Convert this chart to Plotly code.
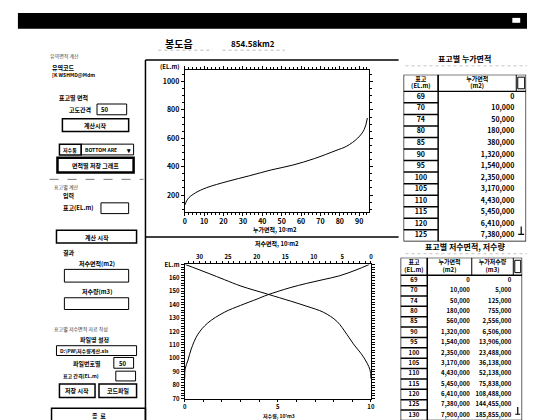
import plotly.graph_objects as go

W, H = 535, 420

# ---------------- data ----------------
top_area = [0, 1.0, 2.2, 5.6, 11.1, 22.3, 33.4, 44.6, 55.7, 66.9, 78.0, 83.5, 89.2, 92.6, 94.2]
top_el = [129, 159, 182, 216, 251, 297, 336, 377, 411, 457, 514, 544, 601, 663, 743]
top_yticks = [200, 400, 600, 800, 1000]

vol = [0, 0.02, 0.18, 0.35, 0.71, 1.24, 2.12, 3.0, 3.9, 4.42, 5.66, 6.55, 7.43, 8.32, 9.2, 9.91]
vol_el = [85, 92, 98.8, 107, 118, 126.4, 134.3, 139.5, 144.3, 147.2, 152.7, 155.9, 158.7, 161.6, 165.9, 170]
area2 = [32.5, 28.5, 25.65, 22.75, 18.1, 14.07, 11.2, 8.28, 5.96, 4.23, 3.07, 1.33, 0.17, 0]
area2_el = [170, 163.5, 158.7, 153.9, 147.9, 142.7, 138.8, 134.3, 127.6, 118, 110.8, 101.2, 91.6, 85]
bot_yticks = [70, 80, 90, 100, 110, 120, 130, 140, 150, 160, 170]
bot_ytext = ["70", "80", "90", "100", "110", "120", "130", "140", "150", "160", "EL.m"]

t1_head = ["표고<br>(EL.m)", "누가면적<br>(m2)"]
t1_el = ["69", "70", "74", "80", "85", "90", "95", "100", "105", "110", "115", "120", "125"]
t1_area = ["0", "10,000", "50,000", "180,000", "380,000", "1,320,000", "1,540,000", "2,350,000",
           "3,170,000", "4,430,000", "5,450,000", "6,410,000", "7,380,000"]

t2_head = ["표고<br>(EL.m)", "누가면적<br>(m2)", "누가저수량<br>(m3)"]
t2_el = ["69", "70", "74", "80", "85", "90", "95", "100", "105", "110", "115", "120", "125", "130"]
t2_area = ["0", "10,000", "50,000", "180,000", "560,000", "1,320,000", "1,540,000", "2,350,000",
           "3,170,000", "4,430,000", "5,450,000", "6,410,000", "7,380,000", "7,900,000"]
t2_vol = ["0", "5,000", "125,000", "755,000", "2,556,000", "6,506,000", "13,906,000", "23,488,000",
          "36,138,000", "52,138,000", "75,838,000", "108,488,000", "144,455,000", "185,855,000"]

FONT = "Noto Sans CJK KR"


def px(x):
    return x / W


def py(y):
    return 1 - y / H


fig = go.Figure()
shapes = []
annots = []

# top chart
fig.add_trace(go.Scatter(x=top_area, y=top_el, mode="lines", line=dict(color="black", width=1, shape="spline"),
                         xaxis="x", yaxis="y", showlegend=False))
# bottom chart
fig.add_trace(go.Scatter(x=vol, y=vol_el, mode="lines", line=dict(color="black", width=1, shape="spline"),
                         xaxis="x2", yaxis="y2", showlegend=False))
fig.add_trace(go.Scatter(x=area2, y=area2_el, mode="lines", line=dict(color="black", width=1, shape="spline"),
                         xaxis="x3", yaxis="y2", showlegend=False))

tickfont = dict(family=FONT, size=7, color="black", weight="bold")
axcommon = dict(showgrid=False, zeroline=False, showline=True, linecolor="black", linewidth=1,
                ticks="outside", tickcolor="black")

layout_axes = dict(
    xaxis=dict(domain=[px(176.7), px(363)], range=[0, 95], anchor="y", dtick=10, tick0=0, mirror="allticks",
               ticklen=3, tickfont=tickfont,
               minor=dict(dtick=2, ticklen=2, ticks="outside", tickcolor="black"), **axcommon),
    yaxis=dict(domain=[py(203), py(58)], range=[83, 1083], anchor="x", tickvals=top_yticks, mirror="allticks",
               ticklen=3, tickfont=tickfont,
               minor=dict(dtick=50, ticklen=2, ticks="outside", tickcolor="black"), **axcommon),
    xaxis2=dict(domain=[px(176.7), px(365)], range=[0, 10], anchor="y2", dtick=5, tick0=0,
                ticklen=2, tickfont=dict(tickfont, size=6),
                minor=dict(dtick=1, ticklen=2, ticks="outside", tickcolor="black"), **axcommon),
    xaxis3=dict(overlaying="x2", side="top", range=[32.6, 0], anchor="y2", dtick=5, tick0=0,
                ticklen=2, tickfont=dict(tickfont, size=6),
                minor=dict(dtick=1, ticklen=2, ticks="outside", tickcolor="black"), **axcommon),
    yaxis2=dict(domain=[py(394), py(257)], range=[70, 170], anchor="x2", tickvals=bot_yticks, ticktext=bot_ytext,
                mirror="allticks", ticklen=3, tickfont=dict(tickfont, size=6),
                minor=dict(dtick=2, ticklen=2, ticks="outside", tickcolor="black"), **axcommon),
)


def make_table(ax_id, x0, y0, col_w, scroll_w, head_px, row_px, head, cols, aligns, vsize):
    n = len(cols[0])
    tw = sum(col_w) + scroll_w
    hu = head_px / row_px
    y1 = y0 + head_px + n * row_px
    xa, ya = "x%d" % ax_id, "y%d" % ax_id
    layout_axes["xaxis%d" % ax_id] = dict(domain=[px(x0), px(x0 + tw)], range=[0, tw], visible=False,
                                          anchor=ya, fixedrange=True)
    layout_axes["yaxis%d" % ax_id] = dict(domain=[py(y1), py(y0)], range=[n, -hu], visible=False,
                                          anchor=xa, fixedrange=True)
    bounds = [0]
    for w in col_w:
        bounds.append(bounds[-1] + w)
    rows_y = [i + 0.5 for i in range(n)]
    for c, (vals, al) in enumerate(zip(cols, aligns)):
        if al == "center":
            xpos, tp = (bounds[c] + bounds[c + 1]) / 2, "middle center"
        else:
            xpos, tp = bounds[c + 1] - 2, "middle left"
        fig.add_trace(go.Scatter(x=[xpos] * n, y=rows_y, text=vals, mode="text", textposition=tp,
                                 textfont=dict(family=FONT, size=vsize, color="black", weight="bold"),
                                 xaxis=xa, yaxis=ya, showlegend=False, hoverinfo="skip"))
        fig.add_trace(go.Scatter(x=[(bounds[c] + bounds[c + 1]) / 2], y=[-hu / 2], text=[head[c]], mode="text",
                                 textposition="middle center",
                                 textfont=dict(family=FONT, size=6, color="black", weight="bold"),
                                 xaxis=xa, yaxis=ya, showlegend=False, hoverinfo="skip"))

    def sh(**kw):
        d = dict(xref=xa, yref=ya, line=dict(color="black", width=kw.pop("lw", 1)))
        d.update(kw)
        shapes.append(d)

    sh(type="rect", x0=0, x1=tw, y0=-hu, y1=n, lw=1.3)
    sh(type="line", x0=0, x1=tw, y0=0, y1=0, lw=1.3)
    for b in bounds[1:]:
        sh(type="line", x0=b, x1=b, y0=-hu, y1=0, lw=1)
    sh(type="line", x0=bounds[1], x1=bounds[1], y0=-hu, y1=n, lw=1.5)
    for i in range(1, n):
        sh(type="line", x0=0, x1=bounds[1], y0=i, y1=i, lw=1.5)
    sh(type="rect", x0=tw - scroll_w + 1.5, x1=tw - 1.5, y0=-hu * 0.85, y1=-hu * 0.15, lw=1)
    sh(type="line", x0=tw - scroll_w + 2, x1=tw - 2, y0=n - 0.6, y1=n - 0.6, lw=1.2)
    sh(type="line", x0=tw - scroll_w / 2, x1=tw - scroll_w / 2, y0=n - 1.3, y1=n - 0.6, lw=1.2)


make_table(4, 398, 63, [35, 79], 10, 17, 11.8, t1_head, [t1_el, t1_area], ["center", "right"], 7)
make_table(5, 395, 250, [27, 45, 42], 9, 18, 10.6, t2_head, [t2_el, t2_area, t2_vol],
           ["center", "right", "right"], 6)

fig.update_layout(width=W, height=H, margin=dict(l=0, r=0, t=0, b=0),
                  paper_bgcolor="white", plot_bgcolor="white", **layout_axes)


def rect(x0, y0, x1, y1, lw=1, fill=None, color="black"):
    shapes.append(dict(type="rect", xref="paper", yref="paper", x0=px(x0), x1=px(x1), y0=py(y0), y1=py(y1),
                       line=dict(color=color, width=lw), fillcolor=fill if fill else "rgba(0,0,0,0)"))


def line(x0, y0, x1, y1, lw=1, dash="solid", color="black"):
    shapes.append(dict(type="line", xref="paper", yref="paper", x0=px(x0), x1=px(x1), y0=py(y0), y1=py(y1),
                       line=dict(color=color, width=lw, dash=dash)))


def text(x, y, s, size=6, anchor="left", bold=True, color="black"):
    annots.append(dict(xref="paper", yref="paper", x=px(x), y=py(y), text=s, showarrow=False,
                       xanchor=anchor, yanchor="middle",
                       font=dict(family=FONT, size=size, color=color, weight="bold" if bold else "normal")))


# title bar
rect(8, 0, 535, 16, lw=0, fill="black")
rect(508, 5, 516, 10, lw=0, fill="white")

# header texts
text(171, 31, "봉도읍", size=10, anchor="center")
text(246, 31, "854.58km2", size=8, anchor="center")
line(150, 38, 205, 38, lw=0.5, dash="dot", color="#777")
line(215, 38, 278, 38, lw=0.5, dash="dot", color="#777")

# panel lines
line(137, 48, 393, 48, lw=1.5)
line(137, 229, 393, 229, lw=1.5)
line(137, 48, 137, 420, lw=1.5)

# chart texts
text(161, 55, "(EL.m)", size=6, anchor="center")
text(268, 221, "누가면적, 10⁵m2", size=6, anchor="center")
text(270, 236, "저수면적, 10⁵m2", size=6, anchor="center")
text(272, 412, "저수량, 10⁷m3", size=5, anchor="center")

# right table titles
text(460, 46, "표고별 누가면적", size=8, anchor="center")
text(460, 239, "표고별 저수면적, 저수량", size=8, anchor="center")
line(400, 54, 525, 54, lw=0.5, dash="dot", color="#888")
line(400, 246, 525, 246, lw=0.5, dash="dot", color="#888")

# left panel
text(38, 44, "유역면적 계산", size=5, bold=False, color="#444")
text(40, 56, "유역코드", size=6)
text(40, 63, "[K WSHMD@Mdm", size=5)
text(48, 86, "표고별 면적", size=6)
text(58, 99, "고도간격", size=6)
rect(88, 93, 118, 104)
text(90, 99, "50", size=6)
rect(53, 108, 120, 121, lw=1.5)
text(86, 115, "계산시작", size=6, anchor="center")
rect(50, 134, 72, 145, lw=1.5)
text(61, 140, "저수통", size=5, anchor="center")
rect(72, 134, 125, 145, lw=1)
text(74, 140, "BOTTOM ARE", size=5)
text(120, 140, "▾", size=7, anchor="center")
rect(48, 148, 125, 163, lw=2.5)
text(86, 156, "면적별 저장 그래프", size=6, anchor="center")
line(40, 170, 135, 170, lw=0.8, dash="dash", color="#555")
text(42, 178, "표고별 계산", size=5, bold=False, color="#333")
text(52, 186, "입력", size=6)
text(52, 199, "표고(EL.m)", size=6)
rect(92, 194, 120, 205)
rect(47, 222, 128, 235, lw=1.5)
text(88, 229, "계산 시작", size=6, anchor="center")
text(52, 245, "결과", size=6)
text(88, 256, "저수면적(m2)", size=6, anchor="center")
rect(55, 262, 120, 275)
text(88, 285, "저수량(m3)", size=6, anchor="center")
rect(55, 291, 120, 303)
text(42, 323, "표고별 저수면적 자료 작성", size=5, bold=False, color="#333")
text(85, 334, "파일명 설정", size=6, anchor="center")
rect(47, 340, 128, 350)
text(49, 345, "D:\\PW\\저수량계산.xls", size=5)
text(62, 358, "파일번호별", size=6)
rect(105, 352, 125, 363)
text(108, 358, "50", size=6)
text(52, 371, "표고 간격(EL.m)", size=5)
rect(107, 366, 127, 376)
rect(50, 379, 86, 393, lw=1.5)
text(68, 386, "저장 시작", size=6, anchor="center")
rect(90, 379, 128, 393, lw=1.5)
text(109, 386, "코드파일", size=6, anchor="center")
rect(42, 404, 137, 418, lw=1.5)
text(90, 411, "종  료", size=6, anchor="center")

fig.update_layout(shapes=shapes, annotations=annots)
fig.write_html("out.html")
